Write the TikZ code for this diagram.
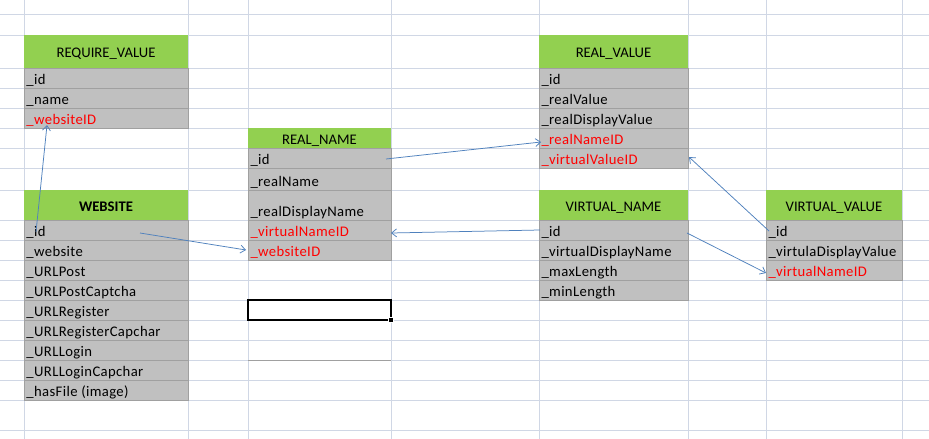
\documentclass[tikz,border=0pt]{standalone}
\usepackage{fontspec}
\setmainfont{Carlito}
\newfontfamily\fieldfont{Carlito}[LetterSpace=2.5]
\usetikzlibrary{arrows.meta}
\definecolor{gridc}{HTML}{D0D7E5}
\definecolor{hdrgreen}{HTML}{92D050}
\definecolor{fldgray}{HTML}{C0C0C0}
\definecolor{fldline}{HTML}{A0A0A0}
\definecolor{fkred}{HTML}{FF0000}
\definecolor{linkblue}{HTML}{4F81BD}
\tikzset{
  gridline/.style={draw=gridc, line width=0.75pt},
  hdrbox/.style={fill=hdrgreen, inner sep=0pt, outer sep=0pt},
  fldbox/.style={fill=fldgray, draw=fldline, line width=0.75pt, inner sep=0pt, outer sep=0pt},
  celltext/.style={font=\fontsize{14.67pt}{17pt}\selectfont, inner sep=0pt, outer sep=0pt},
  fldtext/.style={font=\fieldfont\fontsize{14.67pt}{17pt}\selectfont, inner sep=0pt, outer sep=0pt},
  link/.style={draw=linkblue, line width=0.75pt, -{Straight Barb[length=5pt,width=8pt]}},
}
\newcommand\hdrcell[6]{%
  \node[hdrbox, minimum width=#4pt, minimum height=#5pt, anchor=north west] (#1) at (#2,#3) {};
  \node[celltext, anchor=base] (#1-t) at ([yshift=-6pt]#1.center) {#6};}
\newcommand\fldcell[7]{%
  \node[fldbox, minimum width=#4pt, minimum height=#5pt, anchor=north west] (#1) at (#2,#3) {};
  \node[fldtext, text=#7, anchor=base west] (#1-t) at ([xshift=2.5pt,yshift=4pt]#1.south west) {#6};}
\begin{document}
\begin{tikzpicture}[x=1pt,y=-1pt]
\useasboundingbox (0,0) rectangle (929,439);
\fill[white] (0,0) rectangle (929,439);
% spreadsheet grid
\foreach \y in {14,35,68,88,108,128,148,168,190,220,240,260,280,300,320,340,360,380,400,430}
  \draw[gridline] (0,\y) -- (929,\y);
\foreach \x in {24,188,248,391,539,688,766,902}
  \draw[gridline] (\x,0) -- (\x,439);
% REQUIRE_VALUE
\hdrcell{rq}{24}{35}{164}{33}{REQUIRE\_VALUE}
\fldcell{rq-id}{24}{68}{164}{20}{\_id}{black}
\fldcell{rq-name}{24}{88}{164}{20}{\_name}{black}
\fldcell{rq-wid}{24}{108}{164}{20}{\_websiteID}{fkred}
% WEBSITE
\hdrcell{ws}{24}{190}{164}{30}{\textbf{WEBSITE}}
\fldcell{ws-id}{24}{220}{164}{20}{\_id}{black}
\fldcell{ws-web}{24}{240}{164}{20}{\_website}{black}
\fldcell{ws-post}{24}{260}{164}{20}{\_URLPost}{black}
\fldcell{ws-postc}{24}{280}{164}{20}{\_URLPostCaptcha}{black}
\fldcell{ws-reg}{24}{300}{164}{20}{\_URLRegister}{black}
\fldcell{ws-regc}{24}{320}{164}{20}{\_URLRegisterCapchar}{black}
\fldcell{ws-log}{24}{340}{164}{20}{\_URLLogin}{black}
\fldcell{ws-logc}{24}{360}{164}{20}{\_URLLoginCapchar}{black}
\fldcell{ws-file}{24}{380}{164}{20}{\_hasFile (image)}{black}
% REAL_NAME
\hdrcell{rn}{248}{128}{143}{20}{REAL\_NAME}
\fldcell{rn-id}{248}{148}{143}{20}{\_id}{black}
\fldcell{rn-name}{248}{168}{143}{22}{\_realName}{black}
\fldcell{rn-disp}{248}{190}{143}{30}{\_realDisplayName}{black}
\fldcell{rn-vnid}{248}{220}{143}{20}{\_virtualNameID}{fkred}
\fldcell{rn-wid}{248}{240}{143}{20}{\_websiteID}{fkred}
% REAL_VALUE
\hdrcell{rv}{539}{35}{149}{33}{REAL\_VALUE}
\fldcell{rv-id}{539}{68}{149}{20}{\_id}{black}
\fldcell{rv-val}{539}{88}{149}{20}{\_realValue}{black}
\fldcell{rv-disp}{539}{108}{149}{20}{\_realDisplayValue}{black}
\fldcell{rv-rnid}{539}{128}{149}{20}{\_realNameID}{fkred}
\fldcell{rv-vvid}{539}{148}{149}{20}{\_virtualValueID}{fkred}
% VIRTUAL_NAME
\hdrcell{vn}{539}{190}{149}{30}{VIRTUAL\_NAME}
\fldcell{vn-id}{539}{220}{149}{20}{\_id}{black}
\fldcell{vn-disp}{539}{240}{149}{20}{\_virtualDisplayName}{black}
\fldcell{vn-max}{539}{260}{149}{20}{\_maxLength}{black}
\fldcell{vn-min}{539}{280}{149}{20}{\_minLength}{black}
% VIRTUAL_VALUE
\hdrcell{vv}{766}{190}{136}{30}{VIRTUAL\_VALUE}
\fldcell{vv-id}{766}{220}{136}{20}{\_id}{black}
\fldcell{vv-disp}{766}{240}{136}{20}{\_virtulaDisplayValue}{black}
\fldcell{vv-vnid}{766}{260}{136}{20}{\_virtualNameID}{fkred}
% selected cell and border line
\draw[line width=2pt, black] (248,300) rectangle (391,320);
\fill[black, draw=white, line width=0.6pt] (388.5,317.5) rectangle (393.5,322.5);
\draw[draw=fldline, line width=0.75pt] (248,360) -- (391,360);
% connector end points
\coordinate (a1s) at (36,232);   \coordinate (a1e) at (47,125);
\coordinate (a2s) at (140,233);  \coordinate (a2e) at (246,250);
\coordinate (a3s) at (386,159);  \coordinate (a3e) at (541,142);
\coordinate (a4s) at (540,230);  \coordinate (a4e) at (391,233);
\coordinate (a5s) at (687,233);  \coordinate (a5e) at (766,273);
\coordinate (a6s) at (769,231);  \coordinate (a6e) at (689,157);
\draw[link] (a1s) -- (a1e);
\draw[link] (a2s) -- (a2e);
\draw[link] (a3s) -- (a3e);
\draw[link] (a4s) -- (a4e);
\draw[link] (a5s) -- (a5e);
\draw[link] (a6s) -- (a6e);
\end{tikzpicture}
\end{document}
